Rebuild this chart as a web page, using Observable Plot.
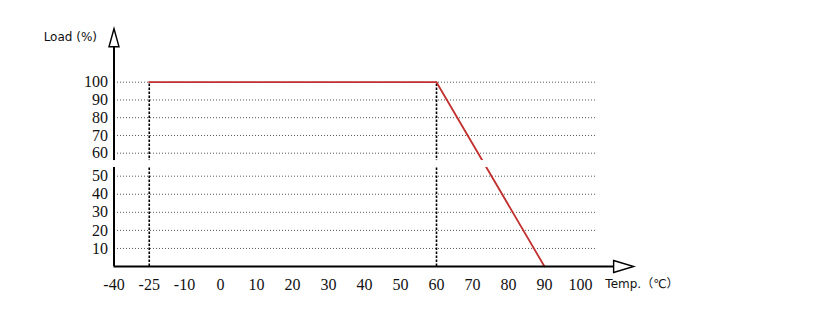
<!DOCTYPE html>
<html>
<head>
<meta charset="utf-8">
<script src="https://cdn.jsdelivr.net/npm/d3@7"></script>
<script src="https://cdn.jsdelivr.net/npm/@observablehq/plot@0.6"></script>
<style>
  html, body { margin: 0; padding: 0; background: #fff; }
  #chart svg { display: block; }
</style>
</head>
<body>
<div id="chart"></div>
<script>
// ---- data ----
const xTicks = [-40, -25, -10, 0, 10, 20, 30, 40, 50, 60, 70, 80, 90, 100];
const yTicks = [10, 20, 30, 40, 50, 60, 70, 80, 90, 100];
const curveTemp = [-25, 60, 90];
const curveLoad = [100, 100, 0];
const guideTemps = [-25, 60];
const yBreak = [53.8, 56.8];      // axis break band (between 50 and 60)
const xLabel = "Temp.（℃）";
const yLabel = "Load (%)";

const curve = curveTemp.map((t, i) => ({temp: t, load: curveLoad[i]}));

// open-triangle arrow head
const openHead = {
  draw(ctx, l, r) {
    ctx.moveTo(-r, 0);
    ctx.lineTo(0, -l);
    ctx.lineTo(r, 0);
    ctx.closePath();
  }
};

const serif = "'Liberation Serif', 'Times New Roman', serif";
const sans = "'DejaVu Sans', 'Noto Sans CJK SC', sans-serif";

const chart = Plot.plot({
  width: 815,
  height: 332,
  style: {background: "#fff", color: "#111"},
  x: {type: "linear", domain: [-40, -10, 100], range: [113.5, 184, 580], axis: null},
  y: {type: "linear", domain: [0, 50, 60, 100], range: [266, 175.7, 152.7, 81.7], axis: null},
  marks: [
    // dotted horizontal grid
    Plot.ruleY(yTicks, {y: d => d, x1: -38.5, x2: 104.5, stroke: "#555", strokeWidth: 1, strokeDasharray: "1,2"}),
    // dashed verticals
    Plot.ruleX(guideTemps, {x: d => d, y1: 0, y2: 100, stroke: "#000", strokeWidth: 1.6, strokeDasharray: "2.5,1.5"}),
    // derating curve
    Plot.line(curve, {x: "temp", y: "load", stroke: "#c2302f", strokeWidth: 1.8}),
    // axes
    Plot.ruleX([-40], {x: d => d, y1: 0, y2: 120, stroke: "#000", strokeWidth: 2}),
    Plot.ruleY([0], {y: d => d, x1: -40, x2: 109.2, stroke: "#000", strokeWidth: 2}),
    // axis break
    Plot.rect([yBreak], {x1: -46, x2: 104, y1: d => d[0], y2: d => d[1], fill: "#fff"}),
    // arrow heads
    Plot.vector([{x: -40, y: 120}], {x: "x", y: "y", shape: openHead, length: 18, r: 5, rotate: 0, anchor: "start", fill: "#fff", stroke: "#000", strokeWidth: 1.4, strokeLinejoin: "miter"}),
    Plot.vector([{x: 109.2, y: 0}], {x: "x", y: "y", shape: openHead, length: 20, r: 6, rotate: 90, anchor: "start", fill: "#fff", stroke: "#000", strokeWidth: 1.4, strokeLinejoin: "miter"}),
    // tick labels
    Plot.text(xTicks, {x: d => d, y: 0, dy: 18, text: d => String(d), fontFamily: serif, fontSize: 16, fill: "#111", textAnchor: "middle"}),
    Plot.text(yTicks, {x: -40, y: d => d, dx: -6, text: d => String(d), fontFamily: serif, fontSize: 16, fill: "#111", textAnchor: "end"}),
    // axis titles
    Plot.text([yLabel], {x: -40, y: 125.2, dx: -17, text: d => d, fontFamily: sans, fontSize: 12, fill: "#111", textAnchor: "end"}),
    Plot.text([xLabel], {x: 106.9, y: 0, dy: 18, text: d => d, fontFamily: sans, fontSize: 12, fill: "#111", textAnchor: "start"})
  ]
});

document.getElementById("chart").appendChild(chart);
</script>
</body>
</html>
